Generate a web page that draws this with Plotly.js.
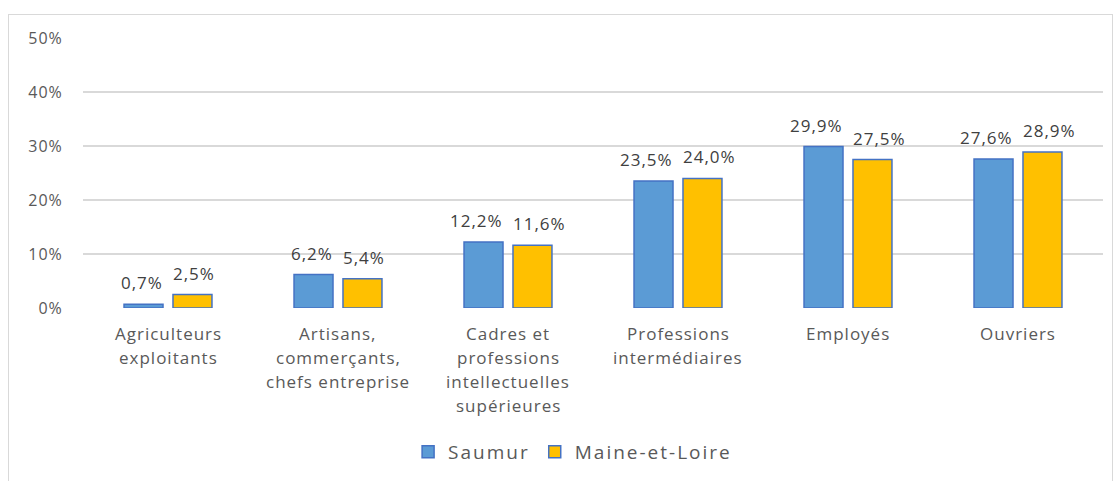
<!DOCTYPE html>
<html>
<head>
<meta charset="utf-8">
<script src="https://cdn.plot.ly/plotly-3.0.1.min.js"></script>
<style>
  html, body { margin: 0; padding: 0; background: #fff; }
  #wrap { position: relative; width: 1113px; height: 481px; overflow: hidden; }
  #frame { position: absolute; left: 8px; top: 14px; width: 1105px; height: 480px;
           border: 1.5px solid #d9d9d9; box-sizing: border-box; pointer-events: none; }
  #chart { position: absolute; left: 0; top: 0; width: 1113px; height: 481px; }
  .annotation-text { letter-spacing: 1px; }
  .legendtext { letter-spacing: 2px; }
  g.ytick text { letter-spacing: 1px; }
</style>
</head>
<body>
<div id="wrap">
  <div id="chart"></div>
  <div id="frame"></div>
</div>
<script>
// ---- data ----
const categories = [
  'Agriculteurs exploitants',
  'Artisans, commerçants, chefs entreprise',
  'Cadres et professions intellectuelles supérieures',
  'Professions intermédiaires',
  'Employés',
  'Ouvriers'
];
const tickLines = [
  ['Agriculteurs', 'exploitants'],
  ['Artisans,', 'commerçants,', 'chefs entreprise'],
  ['Cadres et', 'professions', 'intellectuelles', 'supérieures'],
  ['Professions', 'intermédiaires'],
  ['Employés'],
  ['Ouvriers']
];
const seriesNames = ['Saumur', 'Maine-et-Loire'];
const saumur = [0.007, 0.062, 0.122, 0.235, 0.299, 0.276];
const maineEtLoire = [0.025, 0.054, 0.116, 0.240, 0.275, 0.289];
const yTicks = [0, 0.1, 0.2, 0.3, 0.4, 0.5];

// ---- style ----
const FONT = '"Open Sans", sans-serif';
const TXT = '#595959';
const LBL = '#404040';
const colors = ['#5B9BD5', '#FFC000'];
const edge = '#4472C4';

const traces = [saumur, maineEtLoire].map((vals, i) => ({
  type: 'bar',
  name: seriesNames[i],
  x: categories,
  y: vals,
  marker: { color: colors[i], line: { color: edge, width: 1.5 } },
  hoverinfo: 'none'
}));

// data labels (pushed apart when they would collide, like Excel) and x labels
const annotations = [];
const fmt = v => (v * 100).toFixed(1).replace('.', ',') + '%';
const PX_PER_UNIT = 272 / 0.5;   // plot height / y range
const BAR_SEP = 49;              // distance between the two bar centres
const estW = s => s.length * 10.5;
categories.forEach((cat, k) => {
  const vals = [saumur[k], maineEtLoire[k]];
  const txt = vals.map(fmt);
  const dy = Math.abs(vals[0] - vals[1]) * PX_PER_UNIT;
  let push = 0;
  if (dy < 20) {
    push = Math.max(0, ((estW(txt[0]) + estW(txt[1])) / 2 + 10 - BAR_SEP) / 2);
  }
  vals.forEach((v, s) => {
    annotations.push({
      x: cat, y: v, xref: 'x', yref: 'y',
      xshift: s === 0 ? -(BAR_SEP / 2 + push) : (BAR_SEP / 2 + push), yshift: 8,
      yanchor: 'bottom', showarrow: false,
      text: txt[s],
      font: { family: FONT, size: 17, color: LBL }
    });
  });
});
tickLines.forEach((lines, k) => {
  lines.forEach((ln, i) => {
    annotations.push({
      x: categories[k], y: 0, xref: 'x', yref: 'y',
      yanchor: 'middle', yshift: -(25 + i * 24), showarrow: false,
      text: ln,
      font: { family: FONT, size: 17, color: TXT }
    });
  });
});

const layout = {
  width: 1113, height: 481,
  margin: { l: 83, r: 10, t: 38, b: 171 },
  paper_bgcolor: '#ffffff', plot_bgcolor: '#ffffff',
  separators: ', ',
  barmode: 'group',
  bargap: 0.424,
  bargroupgap: 0.204,
  font: { family: FONT, color: TXT },
  xaxis: {
    type: 'category',
    showticklabels: false,
    showgrid: false, zeroline: false,
    showline: false, ticks: ''
  },
  yaxis: {
    range: [0, 0.5],
    tickvals: yTicks,
    tickformat: '.0%',
    gridcolor: '#d9d9d9', gridwidth: 1.5,
    zeroline: false, showline: false,
    ticks: 'outside', ticklen: 16, tickcolor: 'rgba(0,0,0,0)',
    tickfont: { family: FONT, size: 16, color: TXT }
  },
  showlegend: true,
  legend: {
    orientation: 'h',
    x: 0.48, xanchor: 'center',
    y: -0.533, yanchor: 'middle',
    font: { family: FONT, size: 19, color: TXT },
    itemwidth: 30,
    traceorder: 'normal'
  },
  annotations: annotations
};

Plotly.newPlot('chart', traces, layout, { staticPlot: true, displayModeBar: false });
</script>
</body>
</html>
